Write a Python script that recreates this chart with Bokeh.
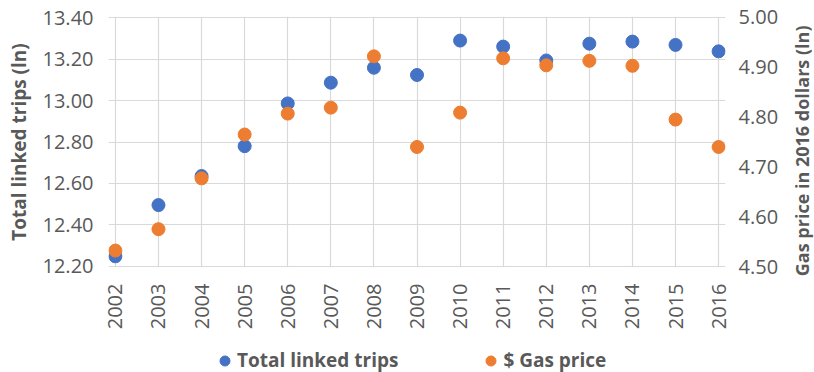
import math

from bokeh.embed import file_html
from bokeh.resources import INLINE
from bokeh.plotting import figure
from bokeh.layouts import row, column
from bokeh.models import (ColumnDataSource, Range1d, LinearAxis, FixedTicker,
                          NumeralTickFormatter, Legend, LegendItem, Label)

# Annual values (natural logs)
years = [2002, 2003, 2004, 2005, 2006, 2007, 2008, 2009,
         2010, 2011, 2012, 2013, 2014, 2015, 2016]
total_linked_trips = [12.249, 12.496, 12.636, 12.780, 12.986, 13.086, 13.158, 13.123,
                      13.289, 13.260, 13.193, 13.274, 13.284, 13.268, 13.237]
gas_price = [4.532, 4.575, 4.677, 4.765, 4.807, 4.819, 4.922, 4.740,
             4.809, 4.918, 4.904, 4.913, 4.903, 4.795, 4.740]

left_ticks = [12.2, 12.4, 12.6, 12.8, 13.0, 13.2, 13.4]
right_ticks = [4.5, 4.6, 4.7, 4.8, 4.9, 5.0]

BLUE = "#4472C4"
ORANGE = "#ED7D31"
GRID = "#D9D9D9"
TEXT = "#595959"
FONT = "Open Sans"

src = ColumnDataSource(dict(year=years, trips=total_linked_trips, gas=gas_price))

# ---- main scatter chart -------------------------------------------------
p = figure(frame_width=617, frame_height=251, output_backend="svg", toolbar_location=None,
           x_range=Range1d(2001.84, 2016.16),
           y_range=Range1d(12.2 - 0.005, 13.4 + 0.005),
           min_border_left=108, min_border_right=59,
           min_border_top=16, min_border_bottom=64)
p.outline_line_color = None
p.extra_y_ranges = {"gas": Range1d(4.5 - 0.002, 5.0 + 0.002)}

p.xgrid.ticker = FixedTicker(ticks=years)
p.ygrid.ticker = FixedTicker(ticks=left_ticks)
for g in (p.xgrid, p.ygrid):
    g.grid_line_color = GRID
    g.grid_line_width = 1.2


def style_axis(ax, standoff):
    ax.axis_line_color = None
    ax.major_tick_line_color = None
    ax.minor_tick_line_color = None
    ax.major_tick_out = 0
    ax.minor_tick_out = 0
    ax.major_label_standoff = standoff
    ax.major_label_text_font = FONT
    ax.major_label_text_font_size = "20px"
    ax.major_label_text_color = TEXT


xa = p.xaxis[0]
xa.ticker = FixedTicker(ticks=years)
xa.major_label_orientation = math.pi / 2
style_axis(xa, 16)

ya = p.yaxis[0]
ya.ticker = FixedTicker(ticks=left_ticks)
ya.formatter = NumeralTickFormatter(format="0.00")
style_axis(ya, 15)
ya.axis_label = "Total linked trips (ln)"
ya.axis_label_text_font = FONT
ya.axis_label_text_font_size = "19px"
ya.axis_label_text_font_style = "bold"
ya.axis_label_text_color = TEXT
ya.axis_label_standoff = 8

ra = LinearAxis(y_range_name="gas", ticker=FixedTicker(ticks=right_ticks),
                formatter=NumeralTickFormatter(format="0.00"))
style_axis(ra, 13)
p.add_layout(ra, "right")

r_trips = p.scatter("year", "trips", source=src, size=13, color=BLUE)
r_gas = p.scatter("year", "gas", source=src, size=13, color=ORANGE, y_range_name="gas")

# ---- legend strip under the chart (its frame lines up with the chart's) ---
leg = figure(width=784, height=41, output_backend="svg", toolbar_location=None,
             x_range=Range1d(0, 1), y_range=Range1d(0, 1),
             x_axis_location=None, y_axis_location=None,
             min_border=0)
leg.outline_line_color = None
leg.grid.visible = False
k_trips = leg.scatter(x=[-1], y=[-1], size=13, color=BLUE)
k_gas = leg.scatter(x=[-1], y=[-1], size=13, color=ORANGE)
legend = Legend(items=[LegendItem(label="Total linked trips", renderers=[k_trips]),
                       LegendItem(label="$ Gas price", renderers=[k_gas])],
                orientation="horizontal", location=(104, 0),
                glyph_width=25, glyph_height=25, label_standoff=0, spacing=80,
                label_text_font=FONT, label_text_font_size="19px",
                label_text_font_style="bold", label_text_color=TEXT,
                border_line_color=None, background_fill_alpha=0,
                margin=0, padding=0)
leg.add_layout(legend)

# ---- secondary axis title, reading bottom to top -------------------------
side = figure(width=30, height=372, output_backend="svg", toolbar_location=None,
              x_range=Range1d(0, 30), y_range=Range1d(0, 372),
              x_axis_location=None, y_axis_location=None,
              min_border=0)
side.outline_line_color = None
side.grid.visible = False
side.add_layout(Label(x=17, y=224, text="Gas price in 2016  dollars (ln)",
                      angle=math.pi / 2, text_align="center", text_baseline="middle",
                      text_font=FONT, text_font_size="18px", text_font_style="bold",
                      text_color=TEXT))

layout = row(column(p, leg), side)

open("out.html", "w").write(file_html(layout, INLINE))
